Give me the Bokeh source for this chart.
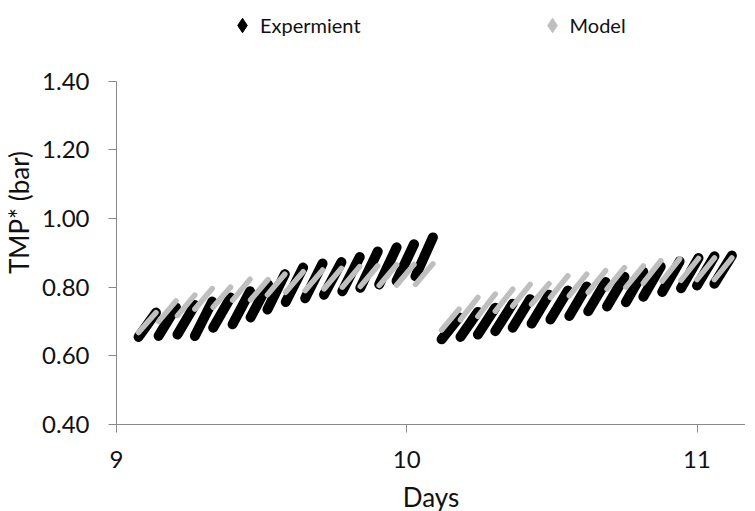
from bokeh.plotting import figure
from bokeh.models import Legend, LegendItem, FixedTicker, CustomJSTickFormatter, ColumnDataSource
from bokeh.embed import file_html
from bokeh.resources import INLINE

# ---- data ----
cycle_start = [9.076, 9.145, 9.21, 9.27, 9.333, 9.40, 9.462, 9.52, 9.583, 9.65, 9.715, 9.778, 9.84, 9.905, 9.965, 10.03,
               10.12, 10.185, 10.245, 10.305, 10.365, 10.43, 10.495, 10.56, 10.625, 10.69, 10.755, 10.815, 10.88, 10.945, 11.0, 11.06]
CYCLE_LEN = 0.06  # days of filtration per cycle

model_start = [0.668, 0.700, 0.717, 0.736, 0.742, 0.762, 0.763, 0.778, 0.785, 0.790, 0.795, 0.800, 0.802, 0.805, 0.806, 0.808,
               0.675, 0.705, 0.715, 0.730, 0.745, 0.750, 0.770, 0.775, 0.785, 0.795, 0.800, 0.812, 0.818, 0.820, 0.822, 0.822]
model_end = [0.726, 0.760, 0.777, 0.796, 0.800, 0.823, 0.822, 0.838, 0.845, 0.850, 0.855, 0.860, 0.862, 0.865, 0.866, 0.868,
             0.736, 0.770, 0.780, 0.794, 0.808, 0.810, 0.833, 0.838, 0.848, 0.857, 0.862, 0.877, 0.882, 0.884, 0.885, 0.885]

exp_start = [0.655, 0.658, 0.662, 0.658, 0.682, 0.692, 0.712, 0.735, 0.757, 0.768, 0.778, 0.788, 0.798, 0.808, 0.818, 0.832,
             0.648, 0.655, 0.662, 0.672, 0.682, 0.694, 0.706, 0.716, 0.730, 0.744, 0.756, 0.772, 0.786, 0.797, 0.805, 0.810]
exp_end = [0.726, 0.741, 0.748, 0.758, 0.770, 0.788, 0.808, 0.838, 0.857, 0.869, 0.873, 0.888, 0.904, 0.916, 0.925, 0.945,
           0.712, 0.728, 0.740, 0.752, 0.765, 0.778, 0.790, 0.802, 0.815, 0.830, 0.845, 0.860, 0.875, 0.885, 0.890, 0.892]

series_labels = ["Expermient", "Model"]
x_ticks = [9, 10, 11]
y_ticks = [0.4, 0.6, 0.8, 1.0, 1.2, 1.4]
x_title = "Days"
y_title = "TMP* (bar)"

cycle_end = [t + CYCLE_LEN for t in cycle_start]

FONT = "Lato"
AXIS_COL = "#898989"
GRAY = "#BFBFBF"
TXT = "#111111"

# frame reaches the top of the figure; the headroom above 1.40 holds the legend
p = figure(width=745, height=515, x_range=(9, 11.167), y_range=(0.4, 1.635),
           output_backend="svg", toolbar_location=None,
           min_border_left=110, min_border_right=0, min_border_top=0, min_border_bottom=60)
p.outline_line_color = None
p.xgrid.visible = False
p.ygrid.visible = False

src = ColumnDataSource(dict(x0=cycle_start, x1=cycle_end, m0=model_start, m1=model_end,
                            e0=exp_start, e1=exp_end))
p.segment(x0="x0", y0="e0", x1="x1", y1="e1", source=src, line_color="black",
          line_width=10, line_cap="round")
p.segment(x0="x0", y0="m0", x1="x1", y1="m1", source=src, line_color=GRAY,
          line_width=5.5, line_cap="round")

# legend proxies (diamond markers, outside the visible range)
r_exp = p.scatter(x=[9.5], y=[5.0], marker="diamond", size=14,
                  fill_color="black", line_color="black")
r_mod = p.scatter(x=[9.5], y=[5.0], marker="diamond", size=14,
                  fill_color=GRAY, line_color=GRAY)
legend = Legend(items=[LegendItem(label=series_labels[0], renderers=[r_exp]),
                       LegendItem(label=series_labels[1], renderers=[r_mod])],
                orientation="horizontal", location=(108, 381),
                glyph_width=36, glyph_height=36, label_standoff=-7, spacing=173,
                padding=0, margin=0, border_line_color=None, background_fill_alpha=0,
                label_text_font=FONT, label_text_font_size="20px", label_text_color=TXT)
p.add_layout(legend, "center")

for ax in (p.xaxis[0], p.yaxis[0]):
    ax.axis_line_color = AXIS_COL
    ax.major_tick_line_color = AXIS_COL
    ax.major_tick_out = 8
    ax.major_tick_in = 0
    ax.minor_tick_line_color = None
    ax.major_label_text_font = FONT
    ax.major_label_text_font_size = "24px"
    ax.major_label_text_color = TXT
    ax.axis_label_text_font = FONT
    ax.axis_label_text_font_size = "26px"
    ax.axis_label_text_font_style = "normal"
    ax.axis_label_text_color = TXT

p.xaxis.ticker = FixedTicker(ticks=x_ticks)
p.yaxis.ticker = FixedTicker(ticks=y_ticks)
p.yaxis.bounds = (0.4, 1.4)
p.yaxis.formatter = CustomJSTickFormatter(code="return tick.toFixed(2);")
p.xaxis.axis_label = x_title
p.yaxis.axis_label = y_title
p.yaxis.major_label_standoff = 19
p.xaxis.major_label_standoff = 18
p.yaxis.axis_label_standoff = 4
p.xaxis.axis_label_standoff = 10

open("out.html", "w").write(file_html(p, INLINE))
